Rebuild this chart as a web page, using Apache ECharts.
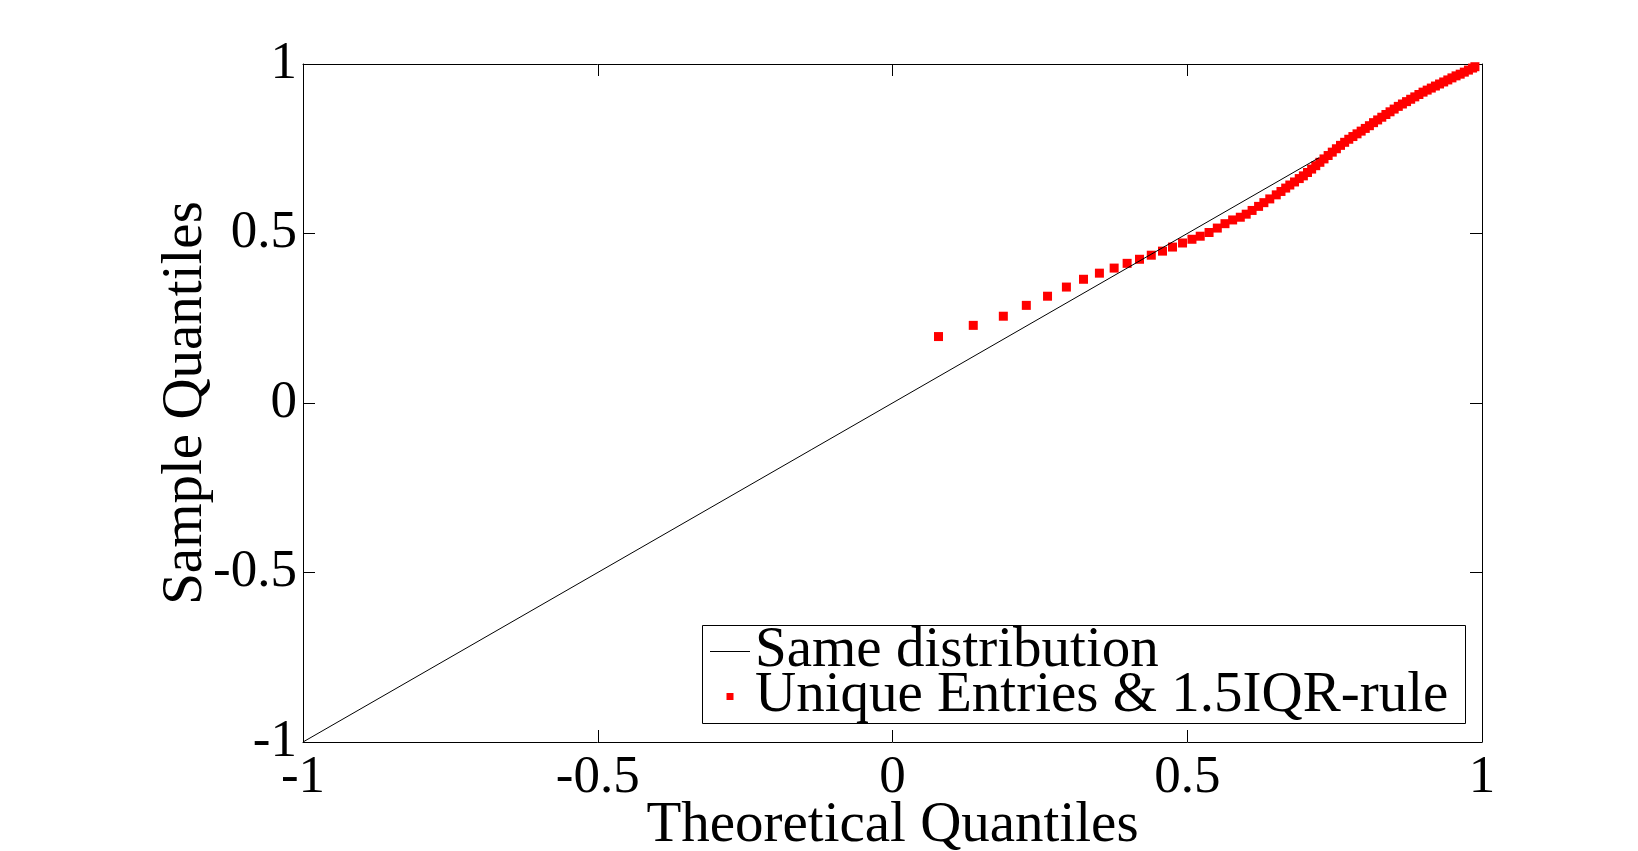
<!DOCTYPE html>
<html>
<head>
<meta charset="utf-8">
<title>QQ plot</title>
<script src="https://cdn.jsdelivr.net/npm/echarts@6/dist/echarts.min.js"></script>
<style>
  html, body { margin: 0; padding: 0; background: #fff; }
  #chart { width: 1638px; height: 851px; }
</style>
</head>
<body>
<div id="chart"></div>
<script>
// theoretical quantiles (x) and sample quantiles (y)
const theoQ = [
  0.078, 0.137, 0.188, 0.227, 0.263, 0.295, 0.324, 0.351, 0.376, 0.398,
  0.419, 0.439, 0.458, 0.475, 0.492, 0.508, 0.522, 0.537, 0.551, 0.564,
  0.577, 0.590, 0.600, 0.610, 0.621, 0.630, 0.640, 0.651, 0.659, 0.667,
  0.674, 0.682, 0.690, 0.697, 0.704, 0.711, 0.718, 0.725, 0.732, 0.739,
  0.746, 0.753, 0.760, 0.767, 0.774, 0.781, 0.788, 0.795, 0.802, 0.809,
  0.816, 0.823, 0.830, 0.837, 0.844, 0.851, 0.858, 0.865, 0.872, 0.879,
  0.886, 0.893, 0.900, 0.907, 0.914, 0.921, 0.928, 0.935, 0.942, 0.949,
  0.956, 0.963, 0.970, 0.977, 0.984, 0.988
];
const sampleQ = [
  0.196, 0.229, 0.256, 0.288, 0.315, 0.342, 0.365, 0.383, 0.398, 0.412,
  0.424, 0.436, 0.448, 0.460, 0.472, 0.483, 0.492, 0.503, 0.516, 0.529,
  0.540, 0.548, 0.557, 0.568, 0.580, 0.591, 0.602, 0.614, 0.624, 0.634,
  0.643, 0.652, 0.662, 0.670, 0.680, 0.690, 0.700, 0.710, 0.720, 0.730,
  0.740, 0.750, 0.760, 0.769, 0.778, 0.786, 0.794, 0.802, 0.810, 0.818,
  0.827, 0.835, 0.843, 0.851, 0.859, 0.867, 0.875, 0.882, 0.889, 0.896,
  0.903, 0.910, 0.917, 0.923, 0.929, 0.935, 0.941, 0.947, 0.953, 0.959,
  0.965, 0.970, 0.976, 0.982, 0.988, 0.992
];
// reference line y = x
const refX = [-1, 0.724];
const refY = [-1, 0.724];

const axisMin = -1;
const axisMax = 1;
const tickStep = 0.5;

const FONT = 'Liberation Serif';

const chart = echarts.init(document.getElementById('chart'));

// axis with inward ticks, used for all four sides of the box
const boxAxis = (pos) => ({
  type: 'value',
  position: pos,
  min: axisMin,
  max: axisMax,
  interval: tickStep,
  axisLine: { show: true, onZero: false, lineStyle: { color: '#000', width: 1 } },
  axisTick: { show: true, inside: true, length: 12, lineStyle: { color: '#000', width: 1 } },
  axisLabel: { show: false },
  splitLine: { show: false }
});

chart.setOption({
  backgroundColor: '#fff',
  animation: false,
  grid: { left: 303, right: 156, top: 64, bottom: 109, containLabel: false, outerBoundsMode: 'none' },
  xAxis: [
    Object.assign(boxAxis('bottom'), {
      axisLabel: { show: true, color: '#000', fontFamily: FONT, fontSize: 53, margin: 10 },
      name: 'Theoretical Quantiles',
      nameLocation: 'middle',
      nameGap: 56,
      nameMoveOverlap: false,
      nameTextStyle: { color: '#000', fontFamily: FONT, fontSize: 57 }
    }),
    boxAxis('top')
  ],
  yAxis: [
    Object.assign(boxAxis('left'), {
      axisLabel: { show: true, color: '#000', fontFamily: FONT, fontSize: 53, margin: 6 },
      name: 'Sample Quantiles',
      nameLocation: 'middle',
      nameGap: 88,
      nameMoveOverlap: false,
      nameTextStyle: { color: '#000', fontFamily: FONT, fontSize: 57 }
    }),
    boxAxis('right')
  ],
  // legend frame
  graphic: [{
    type: 'rect',
    z: 100,
    shape: { x: 702.5, y: 625.5, width: 763, height: 98 },
    style: { fill: null, stroke: '#000', lineWidth: 1 }
  }],
  legend: {
    orient: 'vertical',
    left: 710,
    top: 623,
    padding: 0,
    itemGap: -12,
    itemWidth: 40,
    itemHeight: 7,
    symbolKeepAspect: true,
    textStyle: { color: '#000', fontFamily: FONT, fontSize: 57 },
    data: [
      { name: 'Same distribution', icon: 'path://M0 0h40v1H0z' },
      { name: 'Unique Entries & 1.5IQR-rule', icon: 'path://M0 0h10v10H0z' }
    ]
  },
  series: [
    {
      name: 'Same distribution',
      type: 'line',
      xAxisIndex: 0,
      yAxisIndex: 0,
      symbol: 'none',
      silent: true,
      lineStyle: { color: '#000', width: 1 },
      itemStyle: { color: '#000' },
      data: refX.map((x, i) => [x, refY[i]])
    },
    {
      name: 'Unique Entries & 1.5IQR-rule',
      type: 'scatter',
      xAxisIndex: 0,
      yAxisIndex: 0,
      symbol: 'rect',
      symbolSize: 9,
      itemStyle: { color: '#ff0000', opacity: 1 },
      data: theoQ.map((x, i) => [x, sampleQ[i]])
    }
  ]
});
</script>
</body>
</html>
